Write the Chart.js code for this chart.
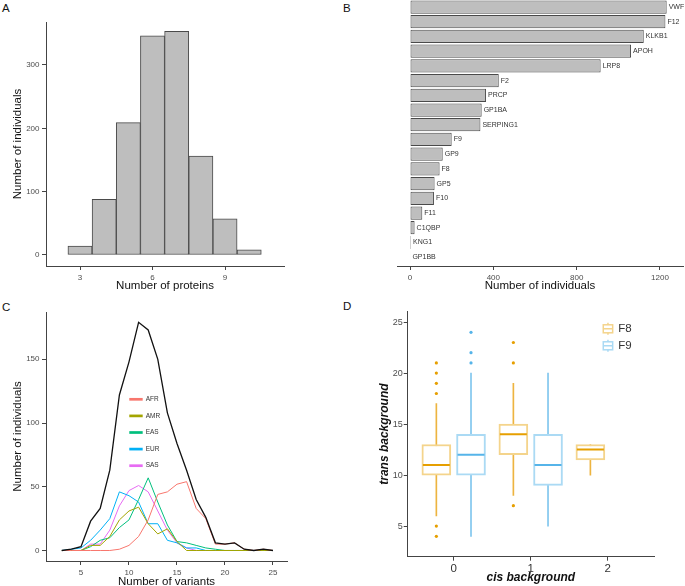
<!DOCTYPE html>
<html>
<head>
<meta charset="utf-8">
<script src="https://cdn.jsdelivr.net/npm/chart.js@4.4.1/dist/chart.umd.min.js"></script>
<style>
  html, body { margin: 0; padding: 0; background: #fff; }
  #figure { position: relative; width: 685px; height: 586px; overflow: hidden; background: #fff; }
  #figure canvas { position: absolute; }
  .tag { position: absolute; font: 11.5px "Liberation Sans", Arial, sans-serif; color: #111; line-height: 1; }
</style>
</head>
<body>
<div id="figure">
  <div class="tag" style="left:2px;top:3px">A</div>
  <div class="tag" style="left:343px;top:3px">B</div>
  <div class="tag" style="left:2px;top:302px">C</div>
  <div class="tag" style="left:343px;top:301px">D</div>
  <canvas id="panelA" width="340" height="296" style="left:0;top:0"></canvas>
  <canvas id="panelB" width="345" height="306" style="left:340px;top:-10px"></canvas>
  <canvas id="panelC" width="340" height="296" style="left:0;top:296px"></canvas>
  <canvas id="panelD" width="345" height="296" style="left:340px;top:296px"></canvas>
</div>
<script>
// A - proteins per individual
const proteinCounts = [3, 4, 5, 6, 7, 8, 9, 10];
const proteinIndividuals = [14, 88, 209, 346, 353, 156, 57, 8];

// B - individuals per gene
const genes = ['VWF', 'F12', 'KLKB1', 'APOH', 'LRP8', 'F2', 'PRCP', 'GP1BA', 'SERPING1',
	'F9', 'GP9', 'F8', 'GP5', 'F10', 'F11', 'C1QBP', 'KNG1', 'GP1BB'];
const geneIndividuals = [1232, 1226, 1122, 1061, 915, 426, 365, 344, 338, 200, 157, 142, 118, 115, 59, 22, 5, 2];

// C - variants per individual, by population
const variantCounts = [3, 4, 5, 6, 7, 8, 9, 10, 11, 12, 13, 14, 15, 16, 17, 18, 19, 20, 21, 22, 23, 24, 25];
const totalCounts = [0, 1, 3, 23, 33, 63, 122, 148, 179, 173, 150, 108, 84, 63, 40, 26, 6, 5, 6, 1, 0, 1, 0];
const afrCounts = [0, 0, 0, 0, 0, 0, 1, 4, 11, 24, 44, 46, 52, 54, 33, 25, 5, 5, 6, 1, 0, 1, 0];
const amrCounts = [0, 0, 0, 4, 4, 11, 24, 31, 34, 21, 13, 17, 7, 0, 0, 0, 0, 0, 0, 0, 0, 0, 0];
const easCounts = [0, 0, 0, 3, 8, 10, 18, 24, 40, 57, 38, 20, 7, 6, 4, 2, 1, 0, 0, 0, 0, 0, 0];
const eurCounts = [0, 1, 2, 8, 16, 25, 46, 43, 38, 21, 21, 8, 6, 2, 2, 0, 0, 0, 0, 0, 0, 0, 0];
const sasCounts = [0, 0, 0, 5, 5, 16, 35, 47, 51, 46, 31, 16, 6, 2, 0, 0, 0, 0, 0, 0, 0, 0, 0];
const populations = ['AFR', 'AMR', 'EAS', 'EUR', 'SAS'];

// D - trans background by cis background
const cisLevels = [0, 1, 2];
const f8Low = [6, 8, 10];
const f8Q1 = [10, 12, 11.5];
const f8Median = [11, 14, 12.5];
const f8Q3 = [13, 15, 13];
const f8High = [17, 19, 13];
const f8Outliers = [[21, 20, 19, 18, 5, 4], [23, 21, 7], []];
const f9Low = [4, 5];
const f9Q1 = [10, 9];
const f9Median = [12, 11];
const f9Q3 = [14, 14];
const f9High = [20, 20];
const f9Outliers = [[24, 22, 21], []];

const FONT = '"Liberation Sans", Arial, Helvetica, sans-serif';
Chart.defaults.font.family = FONT;
Chart.defaults.color = '#4d4d4d';

function axis(min, max, ticks, size, extra) {
	let a = {
		type: 'linear', min: min, max: max, offset: false,
		afterBuildTicks: s => { s.ticks = ticks.map(v => ({value: v})); },
		afterFit: s => {
			if (s.isHorizontal()) s.height = size;
			else s.width = size;
		},
		grid: {drawOnChartArea: false, drawTicks: true, tickLength: 4, color: '#444', offset: false},
		border: {display: true, color: '#444', width: 1},
		ticks: {font: {size: 8}, color: '#4d4d4d', padding: 2.5, autoSkip: false, maxRotation: 0, callback: v => String(v)},
	};
	return Object.assign(a, extra);
}

function title(text, pad, font) {
	return {display: true, text: text, color: '#111', font: font || {size: 11.5}, padding: pad};
}

const base = {
	responsive: false, animation: false, devicePixelRatio: 1, events: [],
	plugins: {legend: {display: false}, tooltip: {enabled: false}},
};

// ---- A
new Chart(document.getElementById('panelA'), {
	type: 'bar',
	data: {
		datasets: [{
			data: proteinCounts.map((c, i) => ({x: c, y: proteinIndividuals[i]})),
			backgroundColor: '#bebebe', borderColor: '#4a4a4a', borderWidth: 1, borderSkipped: false,
			barPercentage: 1, categoryPercentage: 1,
		}],
	},
	options: Object.assign({}, base, {
		layout: {padding: {left: 0, top: 22, right: 56, bottom: 0}},
		scales: {
			x: axis(1.593, 11.44, [3, 6, 9], 30, {title: title('Number of proteins', {top: 0, bottom: 3.5})}),
			y: axis(-17.4, 367.9, [0, 100, 200, 300], 46, {title: title('Number of individuals', {top: 11, bottom: 0})}),
		},
	}),
});

// ---- B
const barLabels = {
	id: 'barLabels',
	afterDatasetsDraw(chart) {
		const ctx = chart.ctx;
		ctx.save();
		ctx.font = '7px ' + FONT;
		ctx.fillStyle = '#333';
		ctx.textBaseline = 'middle';
		chart.getDatasetMeta(0).data.forEach((bar, i) => ctx.fillText(genes[i], bar.x + 2, bar.y));
		ctx.restore();
	}
};

new Chart(document.getElementById('panelB'), {
	type: 'bar',
	data: {
		datasets: [{
			data: genes.map((g, i) => ({x: geneIndividuals[i], y: i})),
			backgroundColor: '#bebebe', borderColor: '#4a4a4a', borderWidth: 1, borderSkipped: false,
			barPercentage: 0.9, categoryPercentage: 1,
		}],
	},
	options: Object.assign({}, base, {
		indexAxis: 'y',
		layout: {padding: {left: 57, top: 8.2, right: 2, bottom: 0}},
		scales: {
			x: axis(-62.4, 1310.4, [0, 400, 800, 1200], 30, {title: title('Number of individuals', {top: 0, bottom: 3})}),
			y: {type: 'linear', display: false, reverse: true, min: -0.6, max: 17.6, offset: false, grid: {offset: false}},
		},
	}),
	plugins: [barLabels],
});

// ---- C
const lineLegend = {
	id: 'lineLegend',
	afterDraw(chart) {
		const {ctx, chartArea: a} = chart;
		const x0 = a.left + 0.3456 * (a.right - a.left);
		let y = a.top + 0.3506 * (a.bottom - a.top);
		ctx.save();
		ctx.font = '6.5px ' + FONT;
		ctx.textBaseline = 'middle';
		chart.data.datasets.forEach(ds => {
			if (!ds.inLegend) return;
			ctx.strokeStyle = ds.borderColor;
			ctx.lineWidth = 2.7;
			ctx.beginPath();
			ctx.moveTo(x0, y);
			ctx.lineTo(x0 + 13.4, y);
			ctx.stroke();
			ctx.fillStyle = '#333';
			ctx.fillText(ds.label, x0 + 16.4, y);
			y += 16.6;
		});
		ctx.restore();
	}
};

const popColors = ['#F8766D', '#A3A500', '#00BF7D', '#00B0F6', '#E76BF3'];
const popSeries = [afrCounts, amrCounts, easCounts, eurCounts, sasCounts];

let cSets = [{
	label: 'All', data: variantCounts.map((v, i) => ({x: v, y: totalCounts[i]})),
	borderColor: '#111', borderWidth: 1.3, pointRadius: 0, tension: 0,
}];
populations.forEach((p, k) => {
	cSets.push({
		label: p, inLegend: true,
		data: variantCounts.map((v, i) => ({x: v, y: popSeries[k][i]})),
		borderColor: popColors[k], borderWidth: 1, pointRadius: 0, tension: 0,
	});
});

new Chart(document.getElementById('panelC'), {
	type: 'line',
	data: {datasets: cSets},
	options: Object.assign({}, base, {
		layout: {padding: {left: 0, top: 16, right: 53, bottom: 0}},
		scales: {
			x: axis(1.354, 26.46, [5, 10, 15, 20, 25], 31, {title: title('Number of variants', {top: 0, bottom: 3.7})}),
			y: axis(-8.24, 187.1, [0, 50, 100, 150], 46, {title: title('Number of individuals', {top: 11, bottom: 0})}),
		},
	}),
	plugins: [lineLegend],
});

// ---- D
const f8Strong = '#E69F00', f8Light = '#F4D48C', f8Whisker = '#EDB440';
const f9Strong = '#56B4E9', f9Light = '#ABDAF4', f9Whisker = '#80C6EE';

const boxLegend = {
	id: 'boxLegend',
	afterDraw(chart) {
		const {ctx, chartArea: a} = chart;
		const x0 = a.left + 0.794 * (a.right - a.left);
		let y = a.top + 17.3;
		ctx.save();
		ctx.font = '11.5px ' + FONT;
		ctx.textBaseline = 'middle';
		[['F8', f8Light], ['F9', f9Light]].forEach(item => {
			ctx.strokeStyle = item[1];
			ctx.lineWidth = 1.5;
			ctx.strokeRect(x0, y - 4, 9.4, 8);
			ctx.beginPath();
			ctx.moveTo(x0 + 4.7, y - 6); ctx.lineTo(x0 + 4.7, y - 4);
			ctx.moveTo(x0 + 4.7, y + 4); ctx.lineTo(x0 + 4.7, y + 6);
			ctx.moveTo(x0, y); ctx.lineTo(x0 + 9.4, y);
			ctx.stroke();
			ctx.fillStyle = '#333';
			ctx.fillText(item[0], x0 + 15, y + 0.5);
			y += 17;
		});
		ctx.restore();
	}
};

function boxSets(offset, low, q1, med, q3, high, outliers, strong, light, whisker) {
	const xs = low.map((v, i) => cisLevels[i] + offset);
	return [
		{type: 'bar', data: xs.map((x, i) => ({x: x, y: [low[i], high[i]]})),
			backgroundColor: whisker, borderWidth: 0, barThickness: 1, grouped: false, order: 3},
		{type: 'bar', data: xs.map((x, i) => ({x: x, y: [q1[i], q3[i]]})),
			backgroundColor: '#fff', borderColor: light, borderWidth: 2, borderSkipped: false,
			barThickness: 29, grouped: false, order: 2},
		{type: 'scatter', data: xs.map((x, i) => ({x: x, y: med[i]})),
			pointStyle: 'line', pointRadius: 13.5, pointBorderWidth: 2, pointBorderColor: strong, order: 1},
		{type: 'scatter', data: outliers.flatMap((arr, i) => arr.map(y => ({x: xs[i], y: y}))),
			pointRadius: 1.6, pointBackgroundColor: strong, pointBorderWidth: 0, order: 0},
	];
}

const dSets = boxSets(-0.225, f8Low, f8Q1, f8Median, f8Q3, f8High, f8Outliers, f8Strong, f8Light, f8Whisker)
	.concat(boxSets(0.225, f9Low, f9Q1, f9Median, f9Q3, f9High, f9Outliers, f9Strong, f9Light, f9Whisker));

const dTitleFont = {size: 12, style: 'italic', weight: 'bold'};
new Chart(document.getElementById('panelD'), {
	type: 'bar',
	data: {datasets: dSets},
	options: Object.assign({}, base, {
		layout: {padding: {left: 0, top: 14.7, right: 31, bottom: 0}},
		scales: {
			x: axis(-0.597, 2.601, [0, 1, 2], 35.3, {
				title: title('cis background', {top: 0, bottom: 7}, dTitleFont),
				ticks: {font: {size: 11.5}, color: '#333', padding: 1.5, autoSkip: false, maxRotation: 0, callback: v => String(v)},
			}),
			y: axis(2.0, 26.04, [5, 10, 15, 20, 25], 67.7, {
				title: title('trans background', {top: 37.6, bottom: 0}, dTitleFont),
				ticks: {font: {size: 9}, color: '#4d4d4d', padding: 1, autoSkip: false, callback: v => String(v)},
			}),
		},
	}),
	plugins: [boxLegend],
});
</script>
</body>
</html>
